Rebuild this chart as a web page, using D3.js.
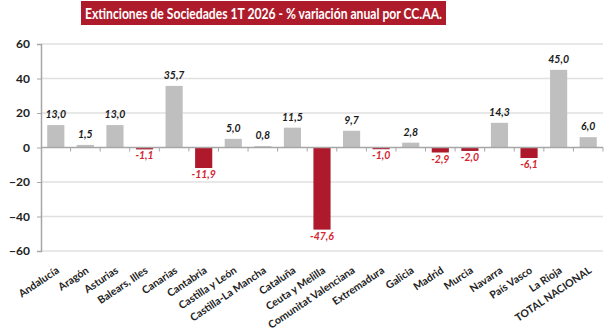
<!DOCTYPE html>
<html>
<head>
<meta charset="utf-8">
<script src="https://cdn.jsdelivr.net/npm/d3@7"></script>
<style>
  body { margin: 0; background: #fff; }
  text { font-family: Lato, "Noto Sans", sans-serif; }
</style>
</head>
<body>
<svg id="chart" width="615" height="328"></svg>
<script>
const CATEGORIES = ["Andalucía", "Aragón", "Asturias", "Balears, Illes", "Canarias", "Cantabria",
  "Castilla y León", "Castilla-La Mancha", "Cataluña", "Ceuta y Melilla", "Comunitat Valenciana",
  "Extremadura", "Galicia", "Madrid", "Murcia", "Navarra", "País Vasco", "La Rioja", "TOTAL NACIONAL"];
const VALUES = [13.0, 1.5, 13.0, -1.1, 35.7, -11.9, 5.0, 0.8, 11.5, -47.6, 9.7, -1.0, 2.8, -2.9, -2.0, 14.3, -6.1, 45.0, 6.0];
const Y_TICKS = [-60, -40, -20, 0, 20, 40, 60];
const TITLE = "Extinciones de Sociedades 1T 2026 - % variación anual por CC.AA.";

const margin = { top: 44, right: 12, bottom: 77, left: 41 },
  width = 615,
  height = 328;

const svg = d3.select("#chart");

// title box
const title = svg.append("g");
title.append("rect")
  .attr("x", 81).attr("y", 1).attr("width", 365).attr("height", 24)
  .attr("fill", "#ae1c2b");
const titleText = title.append("text")
  .attr("x", 263.5).attr("y", 18.5)
  .attr("text-anchor", "middle")
  .attr("fill", "#fff")
  .attr("font-size", 14.5)
  .attr("font-weight", "bold")
  .text(TITLE);
// squeeze to the width of the original (narrow font there)
if (titleText.node().getComputedTextLength() > 357) {
  titleText.attr("textLength", 357).attr("lengthAdjust", "spacingAndGlyphs");
}

const x = d3.scaleBand()
  .domain(CATEGORIES)
  .range([margin.left, width - margin.right])
  .paddingInner(0.42)
  .paddingOuter(0.21);

const y = d3.scaleLinear()
  .domain([-60, 60])
  .range([height - margin.bottom, margin.top]);

// grid lines
svg.append("g")
  .selectAll("line")
  .data(Y_TICKS.filter((d) => d !== 0))
  .enter()
  .append("line")
  .attr("x1", margin.left).attr("x2", width - margin.right)
  .attr("y1", (d) => y(d)).attr("y2", (d) => y(d))
  .attr("stroke", "#e0e0e0")
  .attr("stroke-width", 1.5);

// y axis
svg.append("g")
  .attr("transform", `translate(${margin.left},0)`)
  .call(d3.axisLeft(y).tickValues(Y_TICKS).tickSize(4).tickPadding(7))
  .call((g) => g.select(".domain").attr("stroke", "#a6a6a6").attr("stroke-width", 1.5))
  .call((g) => g.selectAll(".tick line").attr("stroke", "#a6a6a6"))
  .call((g) =>
    g.selectAll(".tick text")
      .attr("font-size", 12)
      .attr("font-weight", "bold")
      .attr("fill", "#222")
      .style("font-family", "Lato, 'Noto Sans', sans-serif")
  );

// bars
svg.append("g")
  .selectAll("rect")
  .data(VALUES)
  .enter()
  .append("rect")
  .attr("x", (d, i) => x(CATEGORIES[i]))
  .attr("width", x.bandwidth())
  .attr("y", (d) => y(Math.max(0, d)))
  .attr("height", (d) => Math.abs(y(d) - y(0)))
  .attr("fill", (d) => (d < 0 ? "#ae1a2c" : "#bfbfbf"));

// zero axis with ticks at band boundaries
const step = x.step();
const x0 = x.range()[0];
const zero = svg.append("g");
zero.append("line")
  .attr("x1", margin.left).attr("x2", width - margin.right)
  .attr("y1", y(0)).attr("y2", y(0))
  .attr("stroke", "#a6a6a6").attr("stroke-width", 1.5);
zero.selectAll(".bt")
  .data(d3.range(1, CATEGORIES.length + 1))
  .enter()
  .append("line")
  .attr("class", "bt")
  .attr("x1", (i) => x0 + i * step).attr("x2", (i) => x0 + i * step)
  .attr("y1", y(0)).attr("y2", y(0) + 4)
  .attr("stroke", "#a6a6a6");

// value labels
const fmt = (v) => v.toFixed(1).replace(".", ",");
svg.append("g")
  .selectAll("text")
  .data(VALUES)
  .enter()
  .append("text")
  .attr("x", (d, i) => x(CATEGORIES[i]) + x.bandwidth() / 2)
  .attr("y", (d) => (d < 0 ? y(d) + 10 : y(d) - 7))
  .attr("text-anchor", "middle")
  .attr("font-size", 10.5)
  .attr("font-weight", "bold")
  .attr("font-style", "italic")
  .attr("fill", (d) => (d < 0 ? "#d42531" : "#1a1a1a"))
  .text(fmt);

// category labels
svg.append("g")
  .selectAll("text")
  .data(CATEGORIES)
  .enter()
  .append("text")
  .attr("transform", (d) => `translate(${x(d) + x.bandwidth() / 2 + 2},${y(-60) + 18}) rotate(-34)`)
  .attr("text-anchor", "end")
  .attr("dy", "0.35em")
  .attr("font-size", 10.5)
  .attr("font-weight", "bold")
  .attr("fill", "#222")
  .text((d) => d);
</script>
</body>
</html>
